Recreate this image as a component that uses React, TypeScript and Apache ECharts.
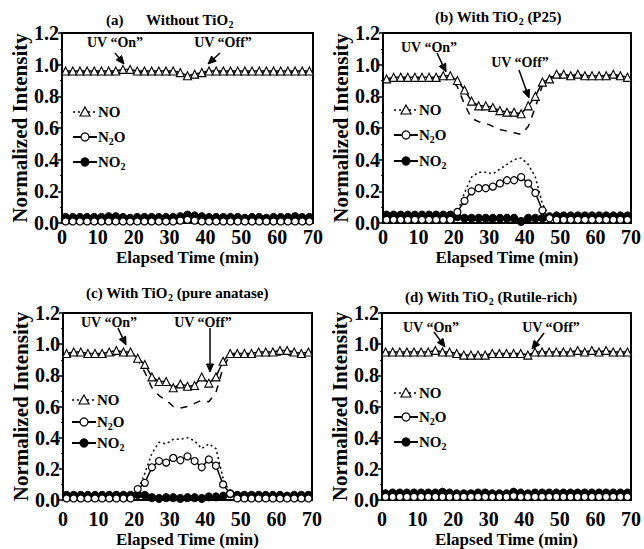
import React, { useEffect, useRef } from "react";
import * as echarts from "echarts";

// Elapsed time (min) of each sample
const timeMin = [1, 3, 5, 7, 9, 11, 13, 15, 17, 19, 21, 23, 25, 27, 29, 31, 33, 35, 37, 39, 41, 43, 45, 47, 49, 51, 53, 55, 57, 59, 61, 63, 65, 67, 69];
const xTicks = [0, 10, 20, 30, 40, 50, 60, 70];
const yTicks = [0.0, 0.2, 0.4, 0.6, 0.8, 1.0, 1.2];

// (a) Without TiO2
const aNO = [0.96, 0.96, 0.96, 0.96, 0.96, 0.96, 0.96, 0.96, 0.97, 0.97, 0.96, 0.96, 0.96, 0.96, 0.96, 0.96, 0.95, 0.93, 0.94, 0.95, 0.96, 0.96, 0.96, 0.96, 0.96, 0.96, 0.96, 0.96, 0.96, 0.96, 0.96, 0.96, 0.96, 0.96, 0.96];
const aNOdash = [0.95, 0.95, 0.95, 0.95, 0.95, 0.95, 0.95, 0.95, 0.95, 0.95, 0.95, 0.95, 0.95, 0.95, 0.95, 0.95, 0.94, 0.93, 0.94, 0.95, 0.95, 0.95, 0.95, 0.95, 0.95, 0.95, 0.95, 0.95, 0.95, 0.95, 0.95, 0.95, 0.95, 0.95, 0.95];
const aDot = [0.005, 0.005, 0.005, 0.005, 0.005, 0.005, 0.005, 0.005, 0.005, 0.005, 0.005, 0.005, 0.005, 0.005, 0.005, 0.005, 0.01, 0.015, 0.01, 0.005, 0.005, 0.005, 0.005, 0.005, 0.005, 0.005, 0.005, 0.005, 0.005, 0.005, 0.005, 0.005, 0.005, 0.005, 0.005];
const aN2O = [0.01, 0.01, 0.01, 0.01, 0.01, 0.01, 0.01, 0.01, 0.01, 0.01, 0.01, 0.01, 0.01, 0.01, 0.01, 0.01, 0.015, 0.02, 0.015, 0.01, 0.01, 0.01, 0.01, 0.01, 0.01, 0.01, 0.01, 0.01, 0.01, 0.01, 0.01, 0.01, 0.01, 0.01, 0.01];
const aNO2 = [0.035, 0.035, 0.035, 0.035, 0.035, 0.035, 0.04, 0.04, 0.035, 0.03, 0.035, 0.035, 0.035, 0.035, 0.035, 0.035, 0.04, 0.05, 0.045, 0.04, 0.035, 0.035, 0.035, 0.035, 0.035, 0.03, 0.035, 0.035, 0.03, 0.035, 0.035, 0.035, 0.04, 0.035, 0.035];

// (b) With TiO2 (P25)
const bNO = [0.91, 0.92, 0.92, 0.92, 0.92, 0.92, 0.92, 0.92, 0.93, 0.93, 0.90, 0.84, 0.77, 0.74, 0.74, 0.73, 0.71, 0.70, 0.70, 0.69, 0.74, 0.80, 0.89, 0.91, 0.94, 0.94, 0.93, 0.94, 0.93, 0.93, 0.93, 0.93, 0.94, 0.93, 0.92];
const bNOdash = [0.91, 0.91, 0.91, 0.91, 0.91, 0.91, 0.91, 0.91, 0.92, 0.91, 0.86, 0.75, 0.66, 0.64, 0.63, 0.61, 0.59, 0.58, 0.57, 0.56, 0.61, 0.73, 0.87, 0.92, 0.93, 0.93, 0.93, 0.93, 0.93, 0.93, 0.93, 0.93, 0.93, 0.92, 0.92];
const bDot = [0.03, 0.03, 0.03, 0.03, 0.03, 0.03, 0.03, 0.03, 0.03, 0.03, 0.07, 0.19, 0.29, 0.32, 0.32, 0.31, 0.34, 0.37, 0.40, 0.41, 0.37, 0.29, 0.12, 0.04, 0.03, 0.03, 0.03, 0.03, 0.03, 0.03, 0.03, 0.03, 0.03, 0.03, 0.03];
const bN2O = [0.02, 0.02, 0.02, 0.02, 0.02, 0.02, 0.02, 0.02, 0.02, 0.02, 0.07, 0.14, 0.20, 0.22, 0.22, 0.23, 0.25, 0.27, 0.27, 0.29, 0.25, 0.19, 0.08, 0.03, 0.02, 0.02, 0.02, 0.02, 0.02, 0.02, 0.02, 0.02, 0.02, 0.02, 0.02];
const bNO2 = [0.05, 0.05, 0.05, 0.05, 0.05, 0.05, 0.05, 0.05, 0.05, 0.05, 0.04, 0.03, 0.03, 0.03, 0.03, 0.03, 0.03, 0.03, 0.03, 0.01, 0.03, 0.03, 0.03, 0.04, 0.045, 0.045, 0.045, 0.045, 0.045, 0.045, 0.045, 0.045, 0.045, 0.045, 0.045];

// (c) With TiO2 (pure anatase)
const cNO = [0.94, 0.95, 0.95, 0.94, 0.94, 0.94, 0.95, 0.96, 0.95, 0.95, 0.91, 0.87, 0.79, 0.76, 0.76, 0.72, 0.745, 0.73, 0.735, 0.79, 0.75, 0.79, 0.89, 0.94, 0.94, 0.94, 0.94, 0.95, 0.95, 0.95, 0.96, 0.96, 0.95, 0.94, 0.95];
const cNOdash = [0.93, 0.93, 0.93, 0.93, 0.93, 0.93, 0.93, 0.93, 0.93, 0.93, 0.90, 0.82, 0.72, 0.67, 0.64, 0.60, 0.59, 0.60, 0.62, 0.64, 0.63, 0.69, 0.85, 0.93, 0.93, 0.93, 0.93, 0.93, 0.93, 0.93, 0.93, 0.93, 0.93, 0.93, 0.93];
const cDot = [0.02, 0.02, 0.02, 0.02, 0.02, 0.02, 0.02, 0.02, 0.02, 0.03, 0.06, 0.17, 0.30, 0.37, 0.36, 0.39, 0.39, 0.40, 0.38, 0.33, 0.36, 0.33, 0.14, 0.04, 0.03, 0.02, 0.02, 0.02, 0.02, 0.02, 0.02, 0.02, 0.02, 0.02, 0.02];
const cN2O = [0.01, 0.01, 0.01, 0.01, 0.01, 0.01, 0.01, 0.01, 0.01, 0.01, 0.07, 0.11, 0.21, 0.25, 0.24, 0.27, 0.255, 0.28, 0.25, 0.21, 0.26, 0.22, 0.10, 0.04, 0.01, 0.01, 0.01, 0.01, 0.01, 0.01, 0.01, 0.01, 0.01, 0.01, 0.01];
const cNO2 = [0.03, 0.03, 0.03, 0.03, 0.03, 0.03, 0.03, 0.03, 0.03, 0.03, 0.035, 0.03, 0.015, 0.01, 0.015, 0.015, 0.01, 0.015, 0.015, 0.01, 0.02, 0.02, 0.025, 0.04, 0.03, 0.03, 0.03, 0.03, 0.03, 0.03, 0.03, 0.025, 0.03, 0.03, 0.03];

// (d) With TiO2 (Rutile-rich)
const dNO = [0.95, 0.95, 0.95, 0.95, 0.95, 0.95, 0.95, 0.96, 0.95, 0.95, 0.94, 0.93, 0.93, 0.93, 0.93, 0.94, 0.94, 0.94, 0.94, 0.94, 0.93, 0.95, 0.95, 0.95, 0.95, 0.95, 0.95, 0.96, 0.95, 0.96, 0.95, 0.96, 0.95, 0.95, 0.95];
const dNOdash = [0.935, 0.935, 0.935, 0.935, 0.935, 0.935, 0.935, 0.935, 0.935, 0.935, 0.93, 0.925, 0.92, 0.92, 0.92, 0.925, 0.93, 0.93, 0.93, 0.93, 0.93, 0.935, 0.94, 0.94, 0.94, 0.94, 0.94, 0.94, 0.94, 0.94, 0.94, 0.94, 0.94, 0.94, 0.94];
const dDot = [0.005, 0.005, 0.005, 0.005, 0.005, 0.005, 0.005, 0.005, 0.005, 0.005, 0.005, 0.005, 0.005, 0.005, 0.005, 0.005, 0.005, 0.005, 0.005, 0.005, 0.005, 0.005, 0.005, 0.005, 0.005, 0.005, 0.005, 0.005, 0.005, 0.005, 0.005, 0.005, 0.005, 0.005, 0.005];
const dN2O = [0.02, 0.02, 0.02, 0.02, 0.02, 0.02, 0.02, 0.02, 0.02, 0.02, 0.02, 0.02, 0.02, 0.02, 0.02, 0.02, 0.02, 0.02, 0.025, 0.02, 0.02, 0.02, 0.02, 0.02, 0.02, 0.02, 0.02, 0.02, 0.02, 0.02, 0.02, 0.02, 0.02, 0.02, 0.02];
const dNO2 = [0.04, 0.045, 0.045, 0.045, 0.045, 0.045, 0.045, 0.045, 0.05, 0.045, 0.04, 0.04, 0.04, 0.045, 0.045, 0.04, 0.04, 0.04, 0.05, 0.045, 0.04, 0.045, 0.045, 0.045, 0.045, 0.045, 0.045, 0.045, 0.045, 0.045, 0.045, 0.045, 0.045, 0.045, 0.045];

const panelTitles = ["Without TiO{s|2}", "(b) With TiO{s|2} (P25)", "(c) With TiO{s|2} (pure anatase)", "(d) With TiO{s|2} (Rutile-rich)"];
const legendNames = ["NO", "N{s|2}O", "NO{s|2}"];
const annotationTexts = ["UV “On”", "UV “Off”"];
const xAxisName = "Elapsed Time (min)";
const yAxisName = "Normalized Intensity";

const FONT = '"Liberation Serif", "Times New Roman", serif';

const panels = [
  { grid: { left: 62, top: 33, width: 251, height: 190 }, labelMargin: 4, nameGap: 26, NO: aNO, dash: aNOdash, dot: aDot, N2O: aN2O, NO2: aNO2 },
  { grid: { left: 383, top: 33, width: 251, height: 190 }, labelMargin: 4, nameGap: 26, NO: bNO, dash: bNOdash, dot: bDot, N2O: bN2O, NO2: bNO2 },
  { grid: { left: 63, top: 313, width: 249, height: 189 }, labelMargin: 9, nameGap: 31, NO: cNO, dash: cNOdash, dot: cDot, N2O: cN2O, NO2: cNO2 },
  { grid: { left: 382, top: 313, width: 251, height: 189 }, labelMargin: 9, nameGap: 31, NO: dNO, dash: dNOdash, dot: dDot, N2O: dN2O, NO2: dNO2 },
];

const titlePos = [
  { x: 146, y: 20 },
  { x: 435, y: 17 },
  { x: 86, y: 293 },
  { x: 405, y: 297 },
];
const legendPos = [
  { x: 73, y: [112, 137, 162] },
  { x: 394, y: [110, 135, 161] },
  { x: 72, y: [400, 422, 443] },
  { x: 394, y: [393, 417, 442] },
];
const annoPos = [
  { on: [115, 42], off: [223, 42], onArrow: [115, 53, 124, 64], offArrow: [220, 53, 208, 64] },
  { on: [429, 47], off: [520, 62], onArrow: [437, 53, 446, 72], offArrow: [519, 70, 529, 98] },
  { on: [109, 322], off: [203, 322], onArrow: [118, 328, 126, 345], offArrow: [210, 328, 210, 372] },
  { on: [431, 327], off: [551, 327], onArrow: [434, 332, 445, 347], offArrow: [544, 333, 532, 349] },
];

const zip = (ys: number[]) => timeMin.map((t, i) => [t, ys[i]]);

const richSub = (size: number) => ({
  s: { fontSize: Math.round(size * 0.68), fontWeight: "bold", fontFamily: FONT, fill: "#000", verticalAlign: "bottom", lineHeight: 10 },
});

function arrowEls(a: number[]) {
  const [x1, y1, x2, y2] = a;
  const dx = x2 - x1, dy = y2 - y1;
  const len = Math.sqrt(dx * dx + dy * dy);
  const ux = dx / len, uy = dy / len;
  const hl = 8, hw = 3.5;
  const bx = x2 - ux * hl, by = y2 - uy * hl;
  return [
    { type: "line", shape: { x1, y1, x2: bx + ux * 2, y2: by + uy * 2 }, style: { stroke: "#000", lineWidth: 1.5 }, z: 100 },
    {
      type: "polygon",
      shape: { points: [[x2, y2], [bx - uy * hw, by + ux * hw], [bx + uy * hw, by - ux * hw]] },
      style: { fill: "#000", stroke: "#000", lineWidth: 1 },
      z: 100,
    },
  ];
}

function buildGraphics() {
  const g: any[] = [];
  g.push({ type: "text", x: 106, y: titlePos[0].y, style: { text: "(a)", fontFamily: FONT, fontWeight: "bold", fontSize: 15, fill: "#000", verticalAlign: "middle", align: "left" }, z: 100 });
  panelTitles.forEach((t, i) => {
    g.push({
      type: "text",
      x: titlePos[i].x,
      y: titlePos[i].y,
      style: { text: t, fontFamily: FONT, fontWeight: "bold", fontSize: 15, fill: "#000", verticalAlign: "middle", align: "left", lineHeight: 18, rich: richSub(15) },
      z: 100,
    });
  });
  legendPos.forEach((p) => {
    p.y.forEach((y, k) => {
      g.push({
        type: "line",
        shape: { x1: p.x, y1: y, x2: p.x + 24, y2: y },
        style: { stroke: "#000", lineWidth: k === 0 ? 1.5 : 2, lineDash: k === 0 ? [2, 3] : null },
        z: 100,
      });
      const cx = p.x + 12;
      if (k === 0) {
        g.push({ type: "polygon", shape: { points: [[cx, y - 5], [cx + 5, y + 4], [cx - 5, y + 4]] }, style: { fill: "#fff", stroke: "#000", lineWidth: 1.2 }, z: 101 });
      } else {
        g.push({ type: "circle", shape: { cx, cy: y, r: 4 }, style: { fill: k === 1 ? "#fff" : "#000", stroke: "#000", lineWidth: 1.2 }, z: 101 });
      }
      g.push({
        type: "text",
        x: p.x + 25,
        y,
        style: { text: legendNames[k], fontFamily: FONT, fontWeight: "bold", fontSize: 15, fill: "#000", verticalAlign: "middle", align: "left", lineHeight: 18, rich: richSub(15) },
        z: 101,
      });
    });
  });
  annoPos.forEach((a) => {
    g.push({ type: "text", x: a.on[0], y: a.on[1], style: { text: annotationTexts[0], fontFamily: FONT, fontWeight: "bold", fontSize: 14, fill: "#000", align: "center", verticalAlign: "middle" }, z: 100 });
    g.push({ type: "text", x: a.off[0], y: a.off[1], style: { text: annotationTexts[1], fontFamily: FONT, fontWeight: "bold", fontSize: 14, fill: "#000", align: "center", verticalAlign: "middle" }, z: 100 });
    g.push(...arrowEls(a.onArrow));
    g.push(...arrowEls(a.offArrow));
  });
  return g;
}

export default function App() {
  const ref = useRef<HTMLDivElement>(null);
  useEffect(() => {
    if (!ref.current) return;
    const chart = echarts.init(ref.current, null, { renderer: "svg" });
    const labelStyle = { fontFamily: FONT, fontWeight: "bold" as const, fontSize: 20, color: "#000" };
    const option: any = {
      animation: false,
      backgroundColor: "#fff",
      grid: panels.map((p) => ({ ...p.grid, show: true, borderColor: "#000", borderWidth: 2, backgroundColor: "transparent" })),
      xAxis: panels.map((p, i) => ({
        type: "value",
        gridIndex: i,
        min: xTicks[0],
        max: xTicks[xTicks.length - 1],
        interval: 10,
        name: xAxisName,
        nameLocation: "middle",
        nameGap: p.nameGap,
        nameTextStyle: { fontFamily: FONT, fontWeight: "bold", fontSize: 17, color: "#000" },
        axisLine: { show: true, onZero: false, lineStyle: { color: "#000", width: 2 } },
        axisTick: { show: true, inside: true, length: 4, lineStyle: { color: "#000", width: 1.5 } },
        minorTick: { show: true, splitNumber: 2, length: 2, lineStyle: { color: "#000", width: 1 } },
        splitLine: { show: false },
        axisLabel: { ...labelStyle, margin: p.labelMargin, formatter: (v: number) => String(v) },
      })),
      yAxis: panels.map((p, i) => ({
        type: "value",
        gridIndex: i,
        min: yTicks[0],
        max: yTicks[yTicks.length - 1],
        interval: 0.2,
        name: yAxisName,
        nameLocation: "middle",
        nameGap: 30,
        nameTextStyle: { fontFamily: FONT, fontWeight: "bold", fontSize: 21, color: "#000" },
        axisLine: { show: true, onZero: false, lineStyle: { color: "#000", width: 2 } },
        axisTick: { show: true, inside: false, length: 4, lineStyle: { color: "#000", width: 1.5 } },
        minorTick: { show: true, splitNumber: 2, length: 2, lineStyle: { color: "#000", width: 1 } },
        splitLine: { show: false },
        axisLabel: { ...labelStyle, margin: 3, formatter: (v: number) => v.toFixed(1) },
      })),
      series: panels.flatMap((p, i) => [
        {
          type: "line", xAxisIndex: i, yAxisIndex: i, data: zip(p.dash), symbol: "none",
          lineStyle: { color: "#000", width: 1.5, type: [7, 7] }, z: 2,
        },
        {
          type: "line", xAxisIndex: i, yAxisIndex: i, data: zip(p.dot), symbol: "none",
          lineStyle: { color: "#000", width: 1.5, type: [2, 3] }, z: 2,
        },
        {
          type: "line", xAxisIndex: i, yAxisIndex: i, data: zip(p.NO2), symbol: "circle", symbolSize: 8, showAllSymbol: true,
          itemStyle: { color: "#000", borderColor: "#000", borderWidth: 1 }, lineStyle: { color: "#000", width: 1.5 }, z: 3,
        },
        {
          type: "line", xAxisIndex: i, yAxisIndex: i, data: zip(p.N2O), symbol: "circle", symbolSize: 7, showAllSymbol: true,
          itemStyle: { color: "#fff", borderColor: "#000", borderWidth: 1.2 }, lineStyle: { color: "#000", width: 1.5 }, z: 4,
        },
        {
          type: "line", xAxisIndex: i, yAxisIndex: i, data: zip(p.NO), symbol: "triangle", symbolSize: 8, showAllSymbol: true,
          itemStyle: { color: "#fff", borderColor: "#000", borderWidth: 1.1 }, lineStyle: { color: "#000", width: 1.5 }, z: 5,
        },
      ]),
      graphic: buildGraphics(),
    };
    chart.setOption(option);
    return () => chart.dispose();
  }, []);
  return <div ref={ref} style={{ position: "fixed", left: 0, top: 0, width: 644, height: 549, background: "#fff" }} />;
}
